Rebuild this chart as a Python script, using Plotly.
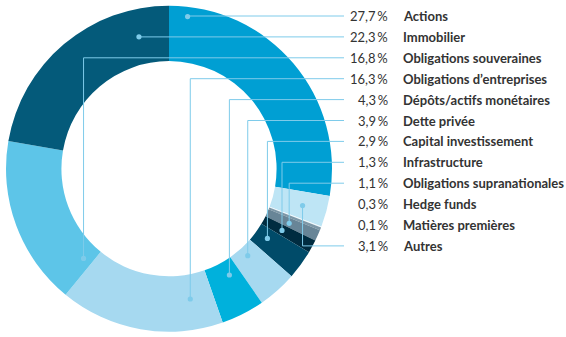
import math
import plotly.graph_objects as go

# Asset classes, in the order of the legend list on the right
categories = [
    "Actions", "Immobilier", "Obligations souveraines", "Obligations d’entreprises",
    "Dépôts/actifs monétaires", "Dette privée", "Capital investissement", "Infrastructure",
    "Obligations supranationales", "Hedge funds", "Matières premières", "Autres",
]
shares = [27.7, 22.3, 16.8, 16.3, 4.3, 3.9, 2.9, 1.3, 1.1, 0.3, 0.1, 3.1]
share_labels = ["27,7", "22,3", "16,8", "16,3", "4,3", "3,9", "2,9", "1,3", "1,1", "0,3", "0,1", "3,1"]

# Clockwise order of the slices around the ring, starting at 12 o'clock
ring_order = [0, 11, 10, 9, 8, 7, 6, 5, 4, 3, 2, 1]

slice_colors = {
    "Actions": "#009fd3", "Immobilier": "#045a7a", "Obligations souveraines": "#5dc5e8",
    "Obligations d’entreprises": "#a6d9f0", "Dépôts/actifs monétaires": "#00b1dc",
    "Dette privée": "#a6d9f0", "Capital investissement": "#004b69",
    "Infrastructure": "#002c40", "Obligations supranationales": "#688597",
    "Hedge funds": "#7d97a7", "Matières premières": "#eef8fd", "Autres": "#bee5f5",
}

# Leader anchor inside each slice: (fraction along the slice, radius as share of outer radius)
leader_anchor = {
    "Actions": (0.07, 0.94), "Immobilier": (0.84, 0.83), "Obligations souveraines": (0.07, 0.76),
    "Obligations d’entreprises": (0.17, 0.81), "Dépôts/actifs monétaires": (0.33, 0.75),
    "Dette privée": (0.47, 0.72), "Capital investissement": (0.43, 0.74),
    "Infrastructure": (0.53, 0.79), "Obligations supranationales": (0.57, 0.81),
    "Autres": (0.52, 0.85),
}

W, H = 566, 337
CX, CY, R = 169.0, 168.7, 163.0
HOLE = 0.66
ROW0, ROW_STEP = 16.0, 20.9
LINE_END = 344
LEAD = "#7ecbea"
FONT = "Lato"
FSIZE = 13

fig = go.Figure()

pie_labels = [categories[i] for i in ring_order]
pie_values = [shares[i] for i in ring_order]
fig.add_trace(go.Pie(
    labels=pie_labels, values=pie_values, sort=False, direction="clockwise", rotation=0,
    hole=HOLE, textinfo="none", hoverinfo="label+percent", showlegend=False,
    marker=dict(colors=[slice_colors[c] for c in pie_labels], line=dict(width=0)),
    domain=dict(x=[(CX - R) / W, (CX + R) / W], y=[(H - CY - R) / H, (H - CY + R) / H]),
))

# Invisible pixel-sized axes used to place the leader lines and labels
fig.add_trace(go.Scatter(x=[0, W], y=[0, H], mode="markers", marker=dict(opacity=0),
                         hoverinfo="skip", showlegend=False))

# Angular extent of each slice (degrees clockwise from the top)
total = sum(pie_values)
spans, acc = {}, 0.0
for c, v in zip(pie_labels, pie_values):
    a0 = acc / total * 360
    acc += v
    spans[c] = (a0, acc / total * 360)

shapes = []
annotations = []
for k, c in enumerate(categories):
    row_y = ROW0 + k * ROW_STEP
    if c in leader_anchor:
        frac, rf = leader_anchor[c]
        a0, a1 = spans[c]
        ang = math.radians(a0 + frac * (a1 - a0))
        px = CX + rf * R * math.sin(ang)
        py = CY - rf * R * math.cos(ang)
        shapes.append(dict(type="path", xref="x", yref="y", layer="above",
                           path=f"M {LINE_END},{row_y} L {px:.2f},{row_y} L {px:.2f},{py:.2f}",
                           line=dict(color=LEAD, width=1)))
        shapes.append(dict(type="circle", xref="x", yref="y", layer="above",
                           xsizemode="pixel", ysizemode="pixel", xanchor=px, yanchor=py,
                           x0=-2.6, x1=2.6, y0=-2.6, y1=2.6,
                           fillcolor=LEAD, line=dict(width=0)))
    annotations.append(dict(x=390, y=row_y, xref="x", yref="y", text=share_labels[k] + "\u2009%",
                            showarrow=False, xanchor="right", yanchor="middle",
                            font=dict(family=FONT, size=FSIZE, color="#333333")))
    annotations.append(dict(x=401, y=row_y, xref="x", yref="y", text="<b>" + c + "</b>",
                            showarrow=False, xanchor="left", yanchor="middle",
                            font=dict(family=FONT, size=FSIZE, color="#333333")))

fig.update_layout(
    width=W, height=H, margin=dict(l=0, r=0, t=0, b=0),
    paper_bgcolor="white", plot_bgcolor="rgba(0,0,0,0)",
    xaxis=dict(range=[0, W], visible=False, fixedrange=True, domain=[0, 1]),
    yaxis=dict(range=[H, 0], visible=False, fixedrange=True, domain=[0, 1]),
    shapes=shapes, annotations=annotations,
)

fig.write_html("out.html")
